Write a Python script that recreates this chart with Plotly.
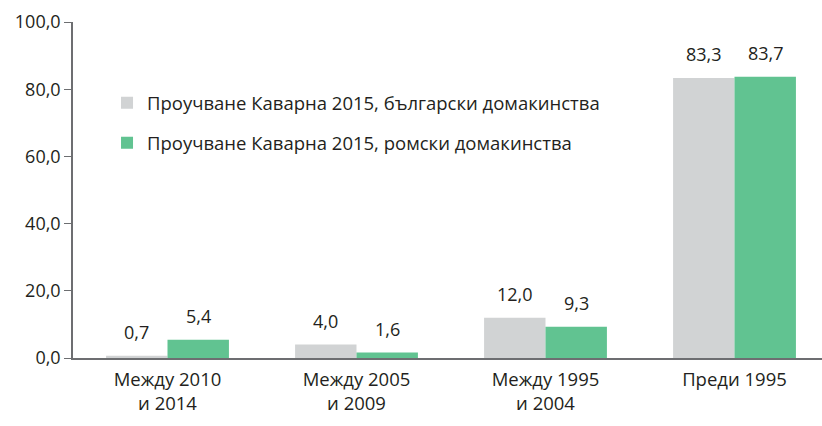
import plotly.graph_objects as go

categories = ['Между 2010<br>и 2014', 'Между 2005<br>и 2009', 'Между 1995<br>и 2004', 'Преди 1995']
bulgarian = [0.7, 4.0, 12.0, 83.3]
roma = [5.4, 1.6, 9.3, 83.7]
names = ['Проучване Каварна 2015, български домакинства',
         'Проучване Каварна 2015, ромски домакинства']
y_ticks = [0, 20, 40, 60, 80, 100]


def fmt(v):
    return f'{v:.1f}'.replace('.', ',')


fig = go.Figure()
fig.add_trace(go.Bar(x=categories, y=bulgarian, name=names[0], legendgroup='bg',
                     marker=dict(color='#d1d3d4', line=dict(width=0))))
fig.add_trace(go.Bar(x=categories, y=roma, name=names[1], legendgroup='roma',
                     marker=dict(color='#61c391', line=dict(width=0))))

# value labels, lifted a bit above the bars like in the original
for vals, shift in [(bulgarian, -31), (roma, 31)]:
    for cat, v in zip(categories, vals):
        fig.add_annotation(x=cat, y=v, text=fmt(v), showarrow=False,
                           xshift=shift, yshift=10, yanchor='bottom',
                           font=dict(size=18, color='#231f20'))

fig.update_layout(
    width=829, height=426,
    margin=dict(l=73, r=0, t=22, b=68),
    paper_bgcolor='white', plot_bgcolor='white',
    font=dict(family='Open Sans, Noto Sans, sans-serif', size=18, color='#231f20'),
    barmode='group', bargap=0.35, bargroupgap=0,
    legend=dict(x=0.045, y=0.815, xanchor='left', yanchor='top',
                font=dict(size=18.5), itemwidth=30, traceorder='grouped',
                tracegroupgap=13, bgcolor='rgba(0,0,0,0)'),
    xaxis=dict(showline=True, linecolor='#6d6e71', linewidth=2, ticks='',
               tickfont=dict(size=18.5), ticklabelstandoff=4),
    yaxis=dict(range=[0, 100], showgrid=False, zeroline=False,
               showline=True, linecolor='#6d6e71', linewidth=1.5,
               ticks='outside', ticklen=7, tickcolor='#6d6e71',
               tickvals=y_ticks, ticktext=[fmt(v) for v in y_ticks],
               tickfont=dict(size=18)),
)

fig.write_html("out.html", config={'displayModeBar': False},
               post_script="document.body.style.margin='0';document.body.style.overflow='hidden';")
